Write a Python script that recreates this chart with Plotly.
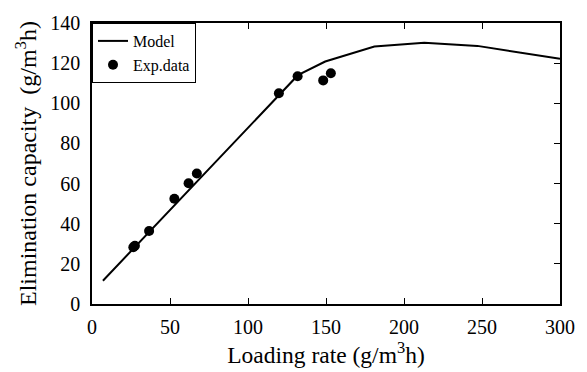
import plotly.graph_objects as go

# Model curve
model_x = [7, 132, 149.5, 181, 213, 247, 300]
model_y = [11.6, 114, 120.8, 128.3, 130.2, 128.6, 122.2]

# Experimental data
exp_x = [26.5, 27.5, 36.6, 52.8, 61.9, 67.2, 119.8, 131.8, 148.2, 153.1]
exp_y = [28.3, 29.0, 36.4, 52.4, 60.2, 65.0, 105.0, 113.5, 111.4, 115.0]

x_ticks = [0, 50, 100, 150, 200, 250, 300]
y_ticks = [0, 20, 40, 60, 80, 100, 120, 140]

FONT = "Liberation Serif, Times New Roman, serif"

fig = go.Figure()
fig.add_trace(go.Scatter(x=model_x, y=model_y, mode="lines", name="Model",
                         line=dict(color="black", width=2)))
fig.add_trace(go.Scatter(x=exp_x, y=exp_y, mode="markers", name="Exp.data",
                         marker=dict(color="black", size=10)))
fig.add_trace(go.Scatter(x=[None], y=[None], yaxis="y2", showlegend=False))

fig.update_layout(
    width=587, height=372,
    margin=dict(l=92, r=20, t=13, b=67),
    paper_bgcolor="white", plot_bgcolor="white",
    font=dict(family=FONT, size=20, color="black"),
    showlegend=True,
    legend=dict(x=0, y=1, xanchor="left", yanchor="top",
                bordercolor="black", borderwidth=1, bgcolor="white",
                font=dict(family=FONT, size=16), tracegroupgap=0,
                itemwidth=30),
    xaxis=dict(range=[0, 300], tickvals=x_ticks, ticks="inside", ticklen=6,
               tickcolor="black", showline=True, linecolor="black", linewidth=1.5,
               mirror="ticks", showgrid=False, zeroline=False,
               tickfont=dict(family=FONT, size=20), ticklabelstandoff=4,
               title=dict(text="Loading rate (g/m<sup>3</sup>h)",
                          font=dict(family=FONT, size=23.5), standoff=6)),
    yaxis=dict(range=[0, 140], tickvals=y_ticks, ticks="", showline=True,
               linecolor="black", linewidth=1.5, mirror=True, showgrid=False,
               zeroline=False, tickfont=dict(family=FONT, size=20),
               ticklabelstandoff=6,
               title=dict(text="Elimination capacity  (g/m<sup>3</sup>h)",
                          font=dict(family=FONT, size=24), standoff=7)),
    yaxis2=dict(range=[0, 140], tickvals=y_ticks, overlaying="y", side="right",
                ticks="inside", ticklen=6, tickcolor="black", showticklabels=False,
                showgrid=False, zeroline=False, showline=False),
)

fig.write_html("out.html")
